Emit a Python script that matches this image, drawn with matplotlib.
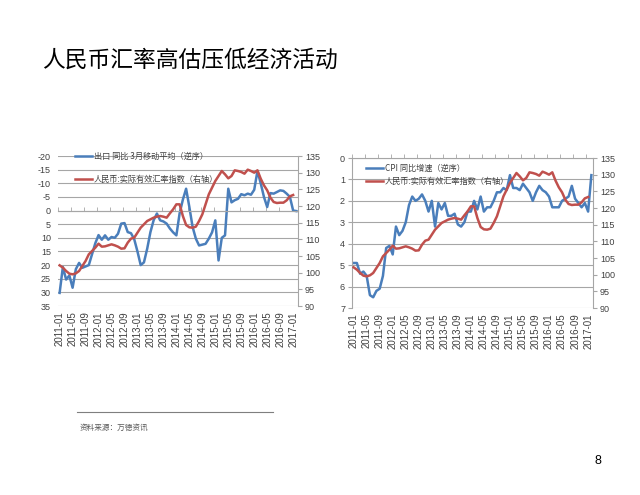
import numpy as np
import matplotlib.pyplot as plt

plt.rcParams['font.family'] = ['Liberation Sans', 'Noto Sans CJK SC', 'DejaVu Sans']
plt.rcParams['axes.unicode_minus'] = False

# ---- data (monthly, 2011-01 .. 2017-02) ----
tick_labels = ['2011-01', '2011-05', '2011-09', '2012-01', '2012-05', '2012-09',
               '2013-01', '2013-05', '2013-09', '2014-01', '2014-05', '2014-09',
               '2015-01', '2015-05', '2015-09', '2016-01', '2016-05', '2016-09',
               '2017-01']

# export yoy, 3 month moving average (%), 2011-01 .. 2017-02
export_3mma = [30.2, 20.7, 25.3, 23.8, 28.3, 21.5, 19.2, 21.0, 20.5, 20.0, 16.0, 12.0,
               9.0, 10.7, 9.1, 10.7, 9.7, 10.0, 8.5, 4.8, 4.6, 7.9, 8.3, 10.5,
               15.0, 20.0, 19.0, 14.0, 7.9, 3.5, 1.1, 3.6, 4.0, 4.8, 6.6, 8.0,
               9.1, 1.0, -4.0, -8.0, -1.3, 6.0, 10.3, 12.8, 12.5, 12.2, 10.3, 8.0,
               3.6, 18.3, 10.0, 9.1, -8.0, -3.0, -3.8, -4.3, -6.0, -5.6, -6.2, -5.8,
               -7.6, -14.5, -10.0, -5.0, -1.3, -6.4, -6.2, -6.8, -7.4, -7.2, -6.2, -5.0,
               0.0, 0.2]

# CPI yoy (%), 2011-01 .. 2017-02
cpi_yoy = [4.9, 4.9, 5.4, 5.3, 5.5, 6.4, 6.5, 6.2, 6.1, 5.5, 4.2, 4.1,
           4.5, 3.2, 3.6, 3.4, 3.0, 2.2, 1.8, 2.0, 1.9, 1.7, 2.0, 2.5,
           2.0, 3.2, 2.1, 2.4, 2.1, 2.7, 2.7, 2.6, 3.1, 3.2, 3.0, 2.5,
           2.5, 2.0, 2.4, 1.8, 2.5, 2.3, 2.3, 2.0, 1.6, 1.6, 1.4, 1.5,
           0.8, 1.4, 1.4, 1.5, 1.2, 1.4, 1.6, 2.0, 1.6, 1.3, 1.5, 1.6,
           1.8, 2.3, 2.3, 2.3, 2.0, 1.9, 1.8, 1.3, 1.9, 2.1, 2.3, 2.1,
           2.5, 0.8]

# RMB real effective exchange rate index, 2011-01 .. 2017-01
reer = [102.2, 101.5, 100.5, 99.7, 99.5, 99.8, 100.5, 102.0, 103.5, 105.5, 106.5, 107.5,
        108.7, 107.8, 107.9, 108.2, 108.5, 108.2, 107.8, 107.2, 107.3, 109.0, 110.2, 110.5,
        112.0, 113.5, 114.5, 115.5, 116.0, 116.5, 116.8, 117.0, 116.8, 116.5, 117.8, 119.0,
        120.5, 120.5, 117.0, 114.3, 113.6, 113.5, 113.8, 115.5, 117.5, 120.5, 123.5, 125.5,
        127.5, 129.0, 130.5, 129.5, 128.3, 129.0, 130.7, 130.5, 130.2, 129.7, 130.9, 130.5,
        130.0, 130.7, 128.2, 126.2, 124.7, 122.5, 121.2, 120.9, 121.0, 121.0, 121.7, 122.9,
        123.3]

blue_label_1 = '出口 同比 3月移动平均（逆序）'
blue_label_2 = 'CPI 同比增速（逆序）'
red_label = '人民币:实际有效汇率指数（右轴）'

BLUE = '#4A7EBB'
RED = '#C0504D'
GRID = '#A6A6A6'
TXT = '#404040'
CJK = ['Noto Sans CJK SC', 'DejaVu Sans']
LW = 1.8


def panel(rect, left_vals, ylim, yticks, left_spine, blue_label, leg_xy, leg_space):
    ax = fig.add_axes(rect)
    n = len(left_vals)
    ax.plot(np.arange(n), left_vals, color=BLUE, lw=LW)
    ax.set_ylim(*ylim)  # inverted axis
    ax.set_yticks(yticks)
    ax.set_xlim(-0.5, n - 0.5)
    ax.yaxis.grid(True, color=GRID, lw=0.8)
    ax.set_axisbelow(True)

    ax2 = ax.twinx()
    ax2.plot(np.arange(len(reer)), reer, color=RED, lw=LW)
    ax2.set_ylim(90, 135)
    ax2.set_yticks(np.arange(90, 136, 5))
    for s in ['top', 'bottom', 'left']:
        ax2.spines[s].set_visible(False)
    ax2.spines['right'].set_color(GRID)
    ax2.tick_params(axis='y', labelsize=6.5, labelcolor=TXT, color=GRID,
                    length=3, pad=2)

    # category labels at bottom, tick marks on the zero line
    ax.set_xticks(np.arange(0, n, 4))
    ax.set_xticklabels(tick_labels)
    ax.set_xticks(np.arange(-0.5, n, 4), minor=True)
    ax.tick_params(axis='x', which='major', length=0, pad=4, labelsize=7,
                   labelcolor=TXT, labelrotation=90)
    ax.tick_params(axis='x', which='minor', top=True, bottom=False,
                   direction='out', length=3, color=GRID)
    ax.spines['top'].set_position(('data', 0))
    ax.spines['top'].set_color(GRID)
    ax.spines['bottom'].set_visible(False)
    ax.spines['right'].set_visible(False)
    ax.spines['left'].set_visible(left_spine)
    ax.spines['left'].set_color(GRID)
    ax.tick_params(axis='y', labelsize=6.5, labelcolor=TXT, color=GRID,
                   length=3 if left_spine else 0, pad=2 if left_spine else 5)

    h1, = ax.plot([], [], color=BLUE, lw=LW)
    h2, = ax.plot([], [], color=RED, lw=LW)
    ax2.legend([h1, h2], [blue_label, red_label], loc='upper left',
               bbox_to_anchor=leg_xy, bbox_transform=fig.transFigure,
               frameon=False, prop={'family': CJK, 'size': 5.9},
               handlelength=2.1, handletextpad=0.2, labelspacing=leg_space,
               borderpad=0, borderaxespad=0, labelcolor=TXT)
    return ax, ax2


fig = plt.figure(figsize=(6.4, 4.95), dpi=100)

fig.text(42 / 640, 1 - 60 / 495, '人民币汇率高估压低经济活动', fontsize=16.4,
         family=CJK, ha='left', va='center')

panel([58 / 640, 1 - 306 / 495, 240 / 640, 150 / 495], export_3mma,
      (35, -20), np.arange(-20, 36, 5), False, blue_label_1,
      (75 / 640, 1 - 152 / 495), 1.7)

panel([352 / 640, 1 - 308 / 495, 241 / 640, 150 / 495], cpi_yoy,
      (7, 0), np.arange(0, 8, 1), True, blue_label_2,
      (366 / 640, 1 - 164 / 495), 0.5)

# source note
fig.add_artist(plt.Line2D([77 / 640, 273 / 640], [1 - 412 / 495, 1 - 412 / 495],
                          color='#7F7F7F', lw=0.8))
fig.text(80 / 640, 1 - 428 / 495, '资料来源：万德资讯', fontsize=5.5,
         family=CJK, color='#595959', ha='left', va='center')

fig.text(598 / 640, 1 - 461 / 495, '8', fontsize=9, ha='center', va='center')

fig.savefig('out.png', dpi=100)
